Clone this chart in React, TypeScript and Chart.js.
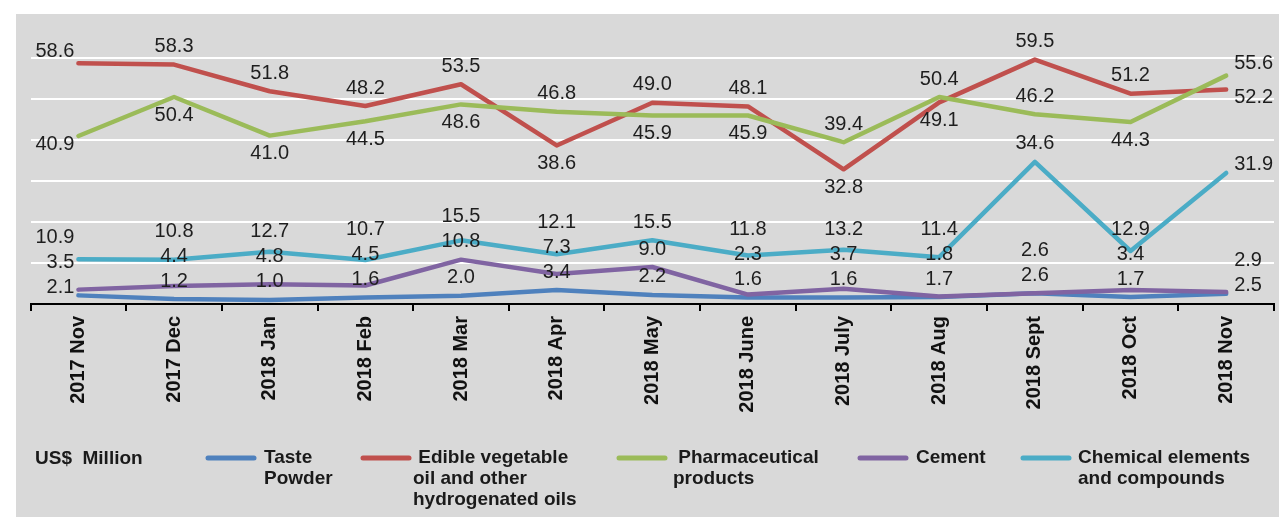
import React, { useEffect, useRef } from "react";
import { Chart, registerables } from "chart.js";

Chart.register(...registerables);

const categories = [
  "2017 Nov", "2017 Dec", "2018 Jan", "2018 Feb", "2018 Mar", "2018 Apr", "2018 May",
  "2018 June", "2018 July", "2018 Aug", "2018 Sept", "2018 Oct", "2018 Nov",
];

const tastePowder = [2.1, 1.2, 1.0, 1.6, 2.0, 3.4, 2.2, 1.6, 1.6, 1.7, 2.6, 1.7, 2.5];
const edibleOil = [58.6, 58.3, 51.8, 48.2, 53.5, 38.6, 49.0, 48.1, 32.8, 49.1, 59.5, 51.2, 52.2];
const pharmaceutical = [40.9, 50.4, 41.0, 44.5, 48.6, 46.8, 45.9, 45.9, 39.4, 50.4, 46.2, 44.3, 55.6];
const cement = [3.5, 4.4, 4.8, 4.5, 10.8, 7.3, 9.0, 2.3, 3.7, 1.8, 2.6, 3.4, 2.9];
const chemicals = [10.9, 10.8, 12.7, 10.7, 15.5, 12.1, 15.5, 11.8, 13.2, 11.4, 34.6, 12.9, 31.9];

const seriesNames = [
  ["Taste", "Powder"],
  [" Edible vegetable", "oil and other", "hydrogenated oils"],
  [" Pharmaceutical", "products"],
  ["Cement"],
  ["Chemical elements", "and compounds"],
];
const seriesColors = ["#4F81BD", "#C0504D", "#9BBB59", "#8064A2", "#4BACC6"];
const unitLabel = "US$  Million";

const yMin = 0;
const yMax = 70;
const yStep = 10;

// legend layout (canvas px)
const legendLineX = [192, 347, 603, 844, 1007];
const legendTextX = [248, 397, 657, 900, 1062];
const legendTop = 444;
const legendLineHeight = 21;

const FONT = '"Liberation Sans", Arial, Helvetica, sans-serif';
const LABEL_GAP = 25;

const valueLabelPlugin = {
  id: "valueLabels",
  afterDatasetsDraw(chart: any) {
    const ctx = chart.ctx;
    const n = categories.length;
    ctx.save();
    ctx.font = `20px ${FONT}`;
    ctx.fillStyle = "#1e1e1e";
    ctx.textBaseline = "middle";
    for (let i = 0; i < n; i++) {
      const items = chart.data.datasets.map((ds: any, di: number) => {
        const el = chart.getDatasetMeta(di).data[i];
        return { v: ds.data[i] as number, x: el.x, y: el.y, ly: el.y };
      });
      const edge = i === 0 ? -1 : i === n - 1 ? 1 : 0;
      const sorted = [...items].sort((a: any, b: any) => b.v - a.v);
      sorted.forEach((it: any, k: number) => {
        let below = false;
        if (k === 1 && sorted[2]) below = sorted[2].y - it.y > 62;
        if (edge) it.ly = it.y + (k === 0 ? -12 : below ? 8 : -8);
        else it.ly = it.y + (below ? 18 : -18);
      });
      const byY = [...sorted].sort((a: any, b: any) => b.ly - a.ly);
      for (let k = 1; k < byY.length; k++) {
        if (byY[k].ly > byY[k - 1].ly - LABEL_GAP) byY[k].ly = byY[k - 1].ly - LABEL_GAP;
      }
      items.forEach((it: any) => {
        const txt = it.v.toFixed(1);
        if (edge === -1) {
          ctx.textAlign = "right";
          ctx.fillText(txt, it.x - 4, it.ly);
        } else if (edge === 1) {
          ctx.textAlign = "left";
          ctx.fillText(txt, it.x + 8, it.ly);
        } else {
          ctx.textAlign = "center";
          ctx.fillText(txt, it.x, it.ly);
        }
      });
    }
    ctx.restore();
  },
};

const legendPlugin = {
  id: "customLegend",
  afterDraw(chart: any) {
    const ctx = chart.ctx;
    ctx.save();
    ctx.fillStyle = "#1a1a1a";
    ctx.textBaseline = "middle";
    ctx.textAlign = "left";
    ctx.font = `bold 19px ${FONT}`;
    ctx.fillText(unitLabel, 19, legendTop + 1);
    seriesNames.forEach((lines, i) => {
      ctx.strokeStyle = seriesColors[i];
      ctx.lineWidth = 5;
      ctx.lineCap = "round";
      ctx.beginPath();
      ctx.moveTo(legendLineX[i], legendTop);
      ctx.lineTo(legendLineX[i] + 46, legendTop);
      ctx.stroke();
      ctx.font = `bold 19px ${FONT}`;
      lines.forEach((line, j) => {
        ctx.fillText(line, legendTextX[i], legendTop + j * legendLineHeight);
      });
    });
    ctx.restore();
  },
};

export default function App() {
  const ref = useRef<HTMLCanvasElement>(null);
  useEffect(() => {
    const data = [tastePowder, edibleOil, pharmaceutical, cement, chemicals];
    const chart = new Chart(ref.current as HTMLCanvasElement, {
      type: "line",
      data: {
        labels: categories,
        datasets: data.map((d, i) => ({
          label: seriesNames[i].join(" ").trim(),
          data: d,
          borderColor: seriesColors[i],
          backgroundColor: seriesColors[i],
          borderWidth: 4.5,
          pointRadius: 0,
          pointHoverRadius: 0,
          tension: 0,
          fill: false,
          borderJoinStyle: "round" as const,
          borderCapStyle: "round" as const,
          order: 5 - i,
        })),
      },
      options: {
        responsive: false,
        animation: false,
        layout: { padding: { left: 14.6, right: 5, top: 2.5, bottom: 83 } },
        plugins: {
          legend: { display: false },
          tooltip: { enabled: false },
        },
        scales: {
          x: {
            type: "category",
            offset: true,
            grid: {
              offset: true,
              drawOnChartArea: false,
              color: "#000",
              lineWidth: 2,
              tickLength: 7,
            },
            border: { display: true, color: "#000", width: 2 },
            ticks: {
              autoSkip: false,
              maxRotation: 90,
              minRotation: 90,
              padding: 5,
              color: "#111",
              font: { family: FONT, size: 20, weight: "bold" },
            },
            afterFit: (scale: any) => {
              scale.height = 130;
            },
          },
          y: {
            min: yMin,
            max: yMax,
            ticks: { display: false, stepSize: yStep },
            border: { display: false },
            grid: {
              drawTicks: false,
              lineWidth: 2,
              color: (c: any) =>
                c.tick && (c.tick.value === yMin || c.tick.value === yMax)
                  ? "rgba(0,0,0,0)"
                  : "#ffffff",
            },
          },
        },
      },
      plugins: [valueLabelPlugin, legendPlugin],
    });
    return () => chart.destroy();
  }, []);

  return (
    <div
      style={{
        position: "absolute",
        left: 0,
        top: 0,
        width: 1279,
        height: 517,
        background: "#ffffff",
        overflow: "hidden",
      }}
    >
      <div
        style={{
          position: "absolute",
          left: 16,
          top: 14,
          width: 1263,
          height: 503,
          background: "#d9d9d9",
        }}
      >
        <canvas ref={ref} width={1263} height={503} style={{ display: "block" }} />
      </div>
    </div>
  );
}
